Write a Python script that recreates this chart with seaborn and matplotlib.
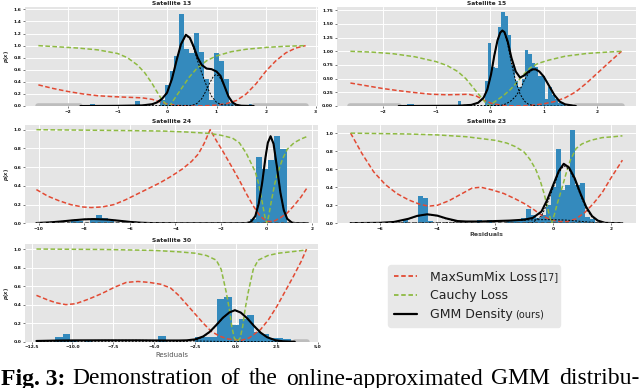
import numpy as np
import pandas as pd
import matplotlib
matplotlib.use("Agg")
import matplotlib.pyplot as plt
from matplotlib.lines import Line2D
from matplotlib.ticker import MultipleLocator
import seaborn as sns

# ---------------- Satellite 13 ----------------
s13_bar_w = 0.1
s13_bar_x = [-1.6, -1.5, -1.3, -0.6, -0.1, 0.0, 0.1, 0.2, 0.3, 0.4, 0.5, 0.6, 0.7,
             0.8, 0.9, 1.0, 1.1, 1.2, 1.3, 1.7]
s13_bar_h = [0.02, 0.03, 0.02, 0.08, 0.1, 0.35, 0.58, 0.82, 1.53, 0.95, 0.87, 1.21, 0.9,
             0.45, 0.1, 0.87, 0.75, 0.45, 0.05, 0.03]
s13_red_x = [-2.6, -2.3, -2.0, -1.7, -1.4, -1.1, -0.8, -0.5, -0.3, -0.15, 0.0, 0.2, 0.4,
             0.6, 0.8, 1.0, 1.2, 1.4, 1.6, 1.8, 2.0, 2.2, 2.4, 2.6, 2.8]
s13_red_y = [0.35, 0.29, 0.24, 0.2, 0.17, 0.155, 0.145, 0.135, 0.11, 0.07, 0.035, 0.01, 0.0,
             0.0, 0.005, 0.015, 0.04, 0.09, 0.2, 0.37, 0.58, 0.75, 0.88, 0.96, 1.0]
s13_green_x = [-2.6, -2.2, -1.8, -1.4, -1.0, -0.8, -0.6, -0.45, -0.3, -0.2, -0.1, 0.0, 0.05,
               0.15, 0.3, 0.45, 0.6, 0.8, 1.0, 1.3, 1.6, 2.0, 2.4, 2.8]
s13_green_y = [1.0, 0.98, 0.96, 0.93, 0.87, 0.8, 0.68, 0.55, 0.37, 0.23, 0.1, 0.015, 0.0,
               0.12, 0.3, 0.48, 0.62, 0.75, 0.83, 0.9, 0.94, 0.97, 0.99, 1.0]
s13_gmm_x = [-1.75, -1.0, -0.5, -0.3, -0.2, -0.1, 0.0, 0.1, 0.2, 0.28, 0.38, 0.46, 0.54,
             0.62, 0.7, 0.8, 0.9, 1.0, 1.08, 1.16, 1.24, 1.32, 1.4, 1.5, 1.75]
s13_gmm_y = [0.0, 0.003, 0.01, 0.03, 0.06, 0.12, 0.22, 0.45, 0.78, 1.02, 1.18, 1.13, 0.98,
             0.8, 0.68, 0.62, 0.61, 0.57, 0.5, 0.33, 0.16, 0.06, 0.02, 0.005, 0.0]
s13_c1_x = [-1.75, -0.5, -0.3, -0.2, -0.1, 0.0, 0.1, 0.2, 0.28, 0.38, 0.46, 0.54, 0.62,
            0.7, 0.8, 0.9, 1.0, 1.1, 1.75]
s13_c1_y = [0.0, 0.01, 0.03, 0.06, 0.12, 0.22, 0.45, 0.78, 1.02, 1.17, 1.12, 0.95, 0.74,
            0.55, 0.33, 0.16, 0.06, 0.02, 0.0]
s13_c2_x = [-1.75, 0.5, 0.6, 0.7, 0.78, 0.86, 0.93, 0.98, 1.04, 1.1, 1.16, 1.24, 1.32, 1.4, 1.5, 1.75]
s13_c2_y = [0.0, 0.01, 0.04, 0.12, 0.24, 0.38, 0.48, 0.52, 0.5, 0.43, 0.32, 0.16, 0.06, 0.02, 0.0, 0.0]
s13_gray = [(-2.6, -1.75), (1.75, 2.8)]

# ---------------- Satellite 15 ----------------
s15_bar_w = 0.0625
s15_bar_x = [-1.50625, -1.44375, -1.19375, -0.56875, -0.06875, -0.00625, 0.05625, 0.11875,
             0.18125, 0.24375, 0.30625, 0.36875, 0.43125, 0.49375, 0.55625, 0.61875,
             0.68125, 0.74375, 0.80625, 0.86875, 0.93125, 0.99375, 1.05625, 1.11875,
             1.18125, 1.24375, 1.30625, 1.36875]
s15_bar_h = [0.03, 0.03, 0.02, 0.09, 0.45, 1.15, 0.72, 0.7, 1.45, 1.72, 1.65, 1.3, 0.75,
             0.45, 0.35, 0.5, 1.02, 0.95, 0.78, 0.72, 0.55, 0.55, 0.12, 0.35, 0.2, 0.12,
             0.06, 0.03]
s15_red_x = [-2.6, -2.3, -2.0, -1.7, -1.4, -1.1, -0.8, -0.55, -0.4, -0.25, -0.1, 0.05, 0.25,
             0.5, 0.75, 1.0, 1.2, 1.4, 1.6, 1.8, 2.0, 2.2, 2.45]
s15_red_y = [0.42, 0.37, 0.32, 0.28, 0.245, 0.215, 0.205, 0.21, 0.215, 0.18, 0.1, 0.04, 0.01,
             0.0, 0.01, 0.04, 0.08, 0.15, 0.26, 0.42, 0.6, 0.78, 1.0]
s15_green_x = [-2.6, -2.2, -1.8, -1.4, -1.0, -0.8, -0.6, -0.45, -0.3, -0.2, -0.1, -0.02, 0.05,
               0.15, 0.25, 0.38, 0.5, 0.62, 0.75, 0.9, 1.1, 1.4, 1.8, 2.1, 2.45]
s15_green_y = [1.0, 0.985, 0.955, 0.9, 0.81, 0.74, 0.63, 0.5, 0.32, 0.2, 0.08, 0.0, 0.05,
               0.12, 0.19, 0.3, 0.43, 0.57, 0.7, 0.78, 0.84, 0.91, 0.96, 0.98, 1.0]
s15_gmm_x = [-1.7, -0.6, -0.35, -0.22, -0.12, -0.05, 0.02, 0.08, 0.14, 0.19, 0.23, 0.27, 0.33,
             0.4, 0.48, 0.56, 0.64, 0.72, 0.79, 0.85, 0.92, 1.0, 1.1, 1.2, 1.3, 1.4, 1.6]
s15_gmm_y = [0.0, 0.005, 0.02, 0.06, 0.15, 0.3, 0.58, 0.92, 1.2, 1.34, 1.38, 1.35, 1.18,
             0.88, 0.63, 0.52, 0.56, 0.63, 0.67, 0.67, 0.63, 0.54, 0.37, 0.2, 0.08, 0.03, 0.0]
s15_c1_x = [-1.7, -0.6, -0.35, -0.22, -0.12, -0.05, 0.02, 0.08, 0.14, 0.19, 0.23, 0.27, 0.33,
            0.4, 0.48, 0.56, 0.64, 0.72, 0.8, 0.9, 1.6]
s15_c1_y = [0.0, 0.005, 0.02, 0.06, 0.15, 0.3, 0.58, 0.92, 1.2, 1.34, 1.37, 1.33, 1.13,
            0.78, 0.45, 0.22, 0.09, 0.03, 0.01, 0.0, 0.0]
s15_c2_x = [-1.7, 0.2, 0.3, 0.4, 0.48, 0.56, 0.64, 0.72, 0.79, 0.85, 0.92, 1.0, 1.1, 1.2,
            1.3, 1.4, 1.6]
s15_c2_y = [0.0, 0.01, 0.04, 0.1, 0.18, 0.3, 0.47, 0.6, 0.66, 0.67, 0.63, 0.54, 0.37, 0.2,
            0.08, 0.03, 0.0]
s15_gray = [(-2.6, -1.7), (1.6, 2.45)]

# ---------------- Satellite 24 ----------------
s24_bar_w = 0.27
s24_bar_x = [-8.445, -8.175, -7.635, -7.365, -7.095, -6.825, -0.615, -0.345, -0.075, 0.195,
             0.465, 0.735]
s24_bar_h = [0.04, 0.02, 0.03, 0.09, 0.06, 0.02, 0.05, 0.71, 0.58, 0.68, 0.93, 0.79]
s24_red_x = [-10.1, -9.6, -9.1, -8.6, -8.1, -7.7, -7.2, -6.7, -6.2, -5.7, -5.2, -4.7, -4.2,
             -3.7, -3.3, -3.0, -2.75, -2.48, -2.2, -1.9, -1.5, -1.2, -0.9, -0.6, -0.3, 0.0,
             0.3, 0.6, 0.9, 1.2, 1.5, 1.8]
s24_red_y = [0.36, 0.29, 0.24, 0.2, 0.175, 0.168, 0.175, 0.2, 0.25, 0.31, 0.37, 0.43, 0.5,
             0.58, 0.66, 0.74, 0.85, 1.0, 0.88, 0.76, 0.59, 0.46, 0.32, 0.19, 0.08, 0.02,
             0.02, 0.06, 0.11, 0.19, 0.28, 0.39]
s24_green_x = [-10.1, -8.0, -6.0, -4.5, -3.5, -2.5, -2.0, -1.5, -1.2, -0.9, -0.7, -0.5, -0.35,
               -0.2, -0.08, 0.0, 0.08, 0.2, 0.35, 0.5, 0.7, 0.9, 1.2, 1.5, 1.8]
s24_green_y = [1.0, 0.995, 0.99, 0.985, 0.975, 0.96, 0.94, 0.91, 0.86, 0.75, 0.65, 0.55, 0.42,
               0.23, 0.07, 0.0, 0.07, 0.23, 0.42, 0.55, 0.69, 0.79, 0.86, 0.9, 0.93]
s24_gmm_x = [-10.1, -9.5, -9.0, -8.5, -8.0, -7.6, -7.0, -6.5, -6.0, -5.5, -5.0, -4.0, -1.2,
             -0.9, -0.7, -0.5, -0.35, -0.2, -0.05, 0.05, 0.17, 0.3, 0.45, 0.6, 0.75, 0.9,
             1.1, 1.3, 1.8]
s24_gmm_y = [0.003, 0.01, 0.02, 0.032, 0.042, 0.045, 0.04, 0.028, 0.015, 0.006, 0.002, 0.0,
             0.0, 0.002, 0.014, 0.077, 0.21, 0.43, 0.71, 0.86, 0.93, 0.85, 0.6, 0.33, 0.14,
             0.048, 0.008, 0.001, 0.0]
s24_c1_x = [-10.1, -9.5, -9.0, -8.5, -8.0, -7.6, -7.0, -6.5, -6.0, -5.5, -5.0, -4.0, 1.8]
s24_c1_y = [0.003, 0.01, 0.02, 0.032, 0.042, 0.045, 0.04, 0.028, 0.015, 0.006, 0.002, 0.0, 0.0]
s24_c2_x = [-10.1, -1.2, -0.9, -0.7, -0.5, -0.35, -0.2, -0.05, 0.05, 0.17, 0.3, 0.45, 0.6,
            0.75, 0.9, 1.1, 1.3, 1.8]
s24_c2_y = [0.0, 0.0, 0.002, 0.014, 0.077, 0.21, 0.43, 0.71, 0.86, 0.93, 0.85, 0.6, 0.33,
            0.14, 0.048, 0.008, 0.001, 0.0]

# ---------------- Satellite 23 ----------------
s23_bar_w = 0.17
s23_bar_x = [-5.945, -5.095, -4.585, -4.415, -4.245, -2.545, -2.205, -1.525, -1.355, -1.185,
             -1.015, -0.845, -0.675, -0.505, -0.335, -0.165, 0.005, 0.175, 0.345, 0.515,
             0.685, 0.855, 1.025, 1.195, 1.365]
s23_bar_h = [0.01, 0.04, 0.30, 0.28, 0.02, 0.04, 0.04, 0.03, 0.03, 0.03, 0.06, 0.16, 0.09,
             0.06, 0.09, 0.2, 0.4, 0.82, 0.37, 0.43, 1.03, 0.43, 0.45, 0.07, 0.05]
s23_red_x = [-7.0, -6.6, -6.2, -5.8, -5.4, -5.0, -4.6, -4.3, -4.0, -3.6, -3.2, -2.8, -2.5,
             -2.1, -1.7, -1.3, -1.0, -0.7, -0.4, -0.1, 0.2, 0.5, 0.8, 1.1, 1.4, 1.7, 2.0, 2.4]
s23_red_y = [1.0, 0.77, 0.57, 0.43, 0.33, 0.26, 0.21, 0.19, 0.2, 0.25, 0.32, 0.39, 0.4, 0.37,
             0.33, 0.27, 0.22, 0.16, 0.09, 0.04, 0.02, 0.02, 0.05, 0.12, 0.22, 0.34, 0.5, 0.7]
s23_green_x = [-7.0, -6.0, -5.0, -4.0, -3.0, -2.5, -2.0, -1.6, -1.3, -1.0, -0.8, -0.6, -0.45,
               -0.3, -0.15, -0.05, 0.05, 0.15, 0.3, 0.45, 0.6, 0.8, 1.0, 1.3, 1.7, 2.1, 2.4]
s23_green_y = [1.0, 0.995, 0.99, 0.98, 0.96, 0.94, 0.92, 0.89, 0.85, 0.79, 0.71, 0.6, 0.48,
               0.32, 0.12, 0.0, 0.1, 0.22, 0.38, 0.55, 0.7, 0.83, 0.88, 0.92, 0.95, 0.96, 0.97]
s23_gmm_x = [-7.0, -6.0, -5.5, -5.0, -4.7, -4.35, -4.0, -3.7, -3.3, -3.0, -2.5, -2.0, -1.5,
             -1.0, -0.7, -0.4, -0.2, 0.0, 0.2, 0.37, 0.55, 0.75, 0.95, 1.15, 1.35, 1.55, 1.8, 2.4]
s23_gmm_y = [0.002, 0.005, 0.015, 0.05, 0.082, 0.1, 0.085, 0.055, 0.025, 0.02, 0.02, 0.025,
             0.03, 0.04, 0.06, 0.13, 0.26, 0.42, 0.58, 0.66, 0.62, 0.5, 0.33, 0.18, 0.08, 0.03,
             0.005, 0.0]
s23_c1_x = [-7.0, -6.0, -5.5, -5.0, -4.7, -4.35, -4.0, -3.7, -3.3, -3.0, -2.5, 2.4]
s23_c1_y = [0.001, 0.005, 0.012, 0.048, 0.08, 0.098, 0.082, 0.05, 0.015, 0.005, 0.0, 0.0]
s23_c2_x = [-7.0, -4.0, -3.0, -2.0, -1.5, -1.0, -0.5, 0.0, 0.5, 1.0, 1.5, 2.4]
s23_c2_y = [0.0, 0.005, 0.015, 0.022, 0.028, 0.035, 0.04, 0.04, 0.035, 0.02, 0.008, 0.0]
s23_c3_x = [-7.0, -1.0, -0.7, -0.4, -0.2, 0.0, 0.2, 0.37, 0.55, 0.75, 0.95, 1.15, 1.35, 1.55,
            1.8, 2.4]
s23_c3_y = [0.0, 0.0, 0.01, 0.08, 0.22, 0.39, 0.56, 0.64, 0.6, 0.48, 0.31, 0.16, 0.07, 0.025,
            0.005, 0.0]

# ---------------- Satellite 30 ----------------
s30_bar_w = 0.45
s30_bar_x = [-10.825, -10.375, -9.925, -9.025, -4.525, -2.275, -1.825, -1.375, -0.925, -0.475,
             -0.025, 0.425, 0.875, 1.325, 1.775, 2.225, 2.675, 3.125]
s30_bar_h = [0.055, 0.08, 0.02, 0.02, 0.06, 0.047, 0.047, 0.05, 0.457, 0.479, 0.18, 0.25,
             0.29, 0.11, 0.08, 0.04, 0.04, 0.03]
s30_red_x = [-12.2, -11.5, -11.0, -10.4, -9.8, -9.0, -8.2, -7.4, -6.7, -6.0, -5.3, -4.6, -4.0,
             -3.5, -3.0, -2.5, -2.0, -1.5, -1.0, -0.5, 0.0, 0.35, 0.8, 1.5, 2.0, 2.5, 3.0, 3.5,
             4.0, 4.32]
s30_red_y = [0.5, 0.45, 0.42, 0.4, 0.41, 0.46, 0.52, 0.59, 0.64, 0.65, 0.64, 0.62, 0.58, 0.5,
             0.4, 0.3, 0.2, 0.11, 0.06, 0.03, 0.02, 0.015, 0.04, 0.13, 0.24, 0.38, 0.54, 0.7,
             0.87, 1.0]
s30_green_x = [-12.2, -8.0, -5.0, -3.5, -2.5, -1.8, -1.2, -0.9, -0.6, -0.4, -0.25, -0.1, 0.08,
               0.26, 0.41, 0.56, 0.76, 1.06, 1.36, 1.96, 2.6, 3.6, 4.32]
s30_green_y = [1.0, 0.995, 0.985, 0.97, 0.955, 0.93, 0.88, 0.78, 0.54, 0.35, 0.16, 0.04, 0.0,
               0.04, 0.16, 0.35, 0.54, 0.78, 0.88, 0.93, 0.955, 0.975, 0.99]
s30_gmm_x = [-12.2, -11.0, -10.0, -8.0, -6.0, -4.5, -3.5, -3.0, -2.5, -2.0, -1.6, -1.2, -0.8,
             -0.4, -0.06, 0.3, 0.7, 1.1, 1.5, 1.9, 2.4, 2.9, 3.6]
s30_gmm_y = [0.008, 0.012, 0.014, 0.015, 0.015, 0.013, 0.013, 0.015, 0.025, 0.057, 0.107,
             0.18, 0.258, 0.316, 0.34, 0.314, 0.251, 0.171, 0.099, 0.049, 0.016, 0.004, 0.0]
s30_c1_x = [-12.2, -10.0, -8.0, -6.0, -4.5, -3.0, -2.0, -1.0, 0.0, 3.6]
s30_c1_y = [0.008, 0.012, 0.014, 0.015, 0.013, 0.01, 0.006, 0.003, 0.001, 0.0]
s30_c2_x = [-12.2, -4.0, -3.0, -2.5, -2.0, -1.6, -1.2, -0.8, -0.4, -0.06, 0.3, 0.7, 1.1, 1.5,
            1.9, 2.4, 2.9, 3.6]
s30_c2_y = [0.0, 0.0, 0.004, 0.017, 0.051, 0.102, 0.175, 0.255, 0.316, 0.34, 0.314, 0.251,
            0.171, 0.099, 0.049, 0.016, 0.004, 0.0]
s30_gray = [(3.6, 4.32)]

legend_labels = ["MaxSumMix Loss", "Cauchy Loss", "GMM Density"]
legend_suffix = ["[17]", "", "(ours)"]
caption_bold = "Fig. 3:"
caption_words = ["Demonstration", "of", "the", "online-approximated", "GMM", "distribu-"]

BLUE = "#348ABD"
RED = "#E24A33"
GREEN = "#8EBA42"

# ---------------- style ----------------
sns.set_theme(style="darkgrid", rc={
    "axes.facecolor": "#E5E5E5",
    "grid.color": "white",
    "grid.linewidth": 0.7,
    "axes.edgecolor": "#E5E5E5",
})
plt.rcParams["font.family"] = ["DejaVu Sans"]
plt.rcParams["font.weight"] = "bold"
plt.rcParams["axes.titleweight"] = "bold"

W, H = 640, 388
fig = plt.figure(figsize=(6.4, 3.88), dpi=100)

panels = [
    dict(title="Satellite 13", rect=(25, 7, 318, 106), xlim=(-2.87, 3.05), ylim=(0, 1.64),
         xstep=1, ystep=0.2, bw=s13_bar_w, bx=s13_bar_x, bh=s13_bar_h,
         red=(s13_red_x, s13_red_y), green=(s13_green_x, s13_green_y),
         gmm=(s13_gmm_x, s13_gmm_y), comps=[(s13_c1_x, s13_c1_y), (s13_c2_x, s13_c2_y)],
         gray=s13_gray, dark=None, ylab=True, xlab=None),
    dict(title="Satellite 15", rect=(337, 7, 636, 106), xlim=(-2.85, 2.72), ylim=(0, 1.81),
         xstep=1, ystep=0.25, bw=s15_bar_w, bx=s15_bar_x, bh=s15_bar_h,
         red=(s15_red_x, s15_red_y), green=(s15_green_x, s15_green_y),
         gmm=(s15_gmm_x, s15_gmm_y), comps=[(s15_c1_x, s15_c1_y), (s15_c2_x, s15_c2_y)],
         gray=s15_gray, dark=None, ylab=False, xlab=None),
    dict(title="Satellite 24", rect=(25, 125, 318, 223.3), xlim=(-10.6, 2.25), ylim=(0, 1.05),
         xstep=2, ystep=0.2, bw=s24_bar_w, bx=s24_bar_x, bh=s24_bar_h,
         red=(s24_red_x, s24_red_y), green=(s24_green_x, s24_green_y),
         gmm=(s24_gmm_x, s24_gmm_y), comps=[(s24_c1_x, s24_c1_y), (s24_c2_x, s24_c2_y)],
         gray=[], dark=(s24_red_x[0], s24_red_x[-1]), ylab=True, xlab=None),
    dict(title="Satellite 23", rect=(337, 125, 636, 223.3), xlim=(-7.47, 2.87), ylim=(0, 1.09),
         xstep=2, ystep=0.2, bw=s23_bar_w, bx=s23_bar_x, bh=s23_bar_h,
         red=(s23_red_x, s23_red_y), green=(s23_green_x, s23_green_y),
         gmm=(s23_gmm_x, s23_gmm_y),
         comps=[(s23_c1_x, s23_c1_y), (s23_c2_x, s23_c2_y), (s23_c3_x, s23_c3_y)],
         gray=[], dark=(s23_red_x[0], s23_red_x[-1]), ylab=False, xlab="bold"),
    dict(title="Satellite 30", rect=(25, 244.4, 318, 341.7), xlim=(-12.9, 5.02), ylim=(0, 1.05),
         xstep=2.5, ystep=0.2, bw=s30_bar_w, bx=s30_bar_x, bh=s30_bar_h,
         red=(s30_red_x, s30_red_y), green=(s30_green_x, s30_green_y),
         gmm=(s30_gmm_x, s30_gmm_y), comps=[(s30_c1_x, s30_c1_y), (s30_c2_x, s30_c2_y)],
         gray=s30_gray, dark=None, ylab=True, xlab="normal"),
]

dash_loss = (0, (3, 1.6))
line_kw = dict(estimator=None, sort=False, legend=False)

for p in panels:
    x0, y0, x1, y1 = p["rect"]
    ax = fig.add_axes([x0 / W, 1 - y1 / H, (x1 - x0) / W, (y1 - y0) / H])
    w = p["bw"]
    lo = min(p["bx"]) - w / 2
    n = int(round((max(p["bx"]) - min(p["bx"])) / w)) + 1
    hist_df = pd.DataFrame({"res": p["bx"], "h": p["bh"]})
    sns.histplot(data=hist_df, x="res", weights="h", binwidth=w, binrange=(lo, lo + n * w),
                 ax=ax, color=BLUE, alpha=1.0, linewidth=0, zorder=1)
    for a, b in p["gray"]:
        sns.lineplot(x=[a, b], y=[0, 0], ax=ax, color="#BDBDBD", lw=4, zorder=1.5, **line_kw)
    sns.lineplot(x=p["red"][0], y=p["red"][1], ax=ax, color=RED, lw=1.1,
                 linestyle=dash_loss, zorder=2.5, **line_kw)
    sns.lineplot(x=p["green"][0], y=p["green"][1], ax=ax, color=GREEN, lw=1.1,
                 linestyle=dash_loss, zorder=2.6, **line_kw)
    for cx, cy in p["comps"]:
        sns.lineplot(x=cx, y=cy, ax=ax, color="black", lw=0.7,
                     linestyle=(0, (2, 1.5)), zorder=3, **line_kw)
    sns.lineplot(x=p["gmm"][0], y=p["gmm"][1], ax=ax, color="black", lw=1.5,
                 zorder=3.5, **line_kw)
    if p["dark"] is not None:
        sns.lineplot(x=list(p["dark"]), y=[0, 0], ax=ax, color="#555555", lw=2,
                     linestyle=(0, (1.2, 1.0)), zorder=3.6, **line_kw)

    ax.set_xlim(*p["xlim"])
    ax.set_ylim(*p["ylim"])
    ax.xaxis.set_major_locator(MultipleLocator(p["xstep"]))
    ax.yaxis.set_major_locator(MultipleLocator(p["ystep"]))
    ax.tick_params(axis="both", labelsize=3.2, length=1.5, width=0.5, color="#444444",
                   pad=1.2, labelcolor="#111111", bottom=True, left=True)
    ax.set_title(p["title"], fontsize=4.3, pad=1.5, fontweight="bold")
    ax.set_ylabel("$p(x)$" if p["ylab"] else "", fontsize=3.6, labelpad=1.5)
    if p["xlab"] == "bold":
        ax.set_xlabel("Residuals", fontsize=4.5, fontweight="bold", color="#444444", labelpad=1)
    elif p["xlab"] == "normal":
        ax.set_xlabel("Residuals", fontsize=5, fontweight="normal", color="#555555", labelpad=1.5)
    else:
        ax.set_xlabel("")
    for s in ax.spines.values():
        s.set_visible(False)

# ---------------- legend ----------------
handles = [
    Line2D([], [], color=RED, lw=1.3, linestyle=(0, (2.5, 1.5))),
    Line2D([], [], color=GREEN, lw=1.3, linestyle=(0, (2.5, 1.5))),
    Line2D([], [], color="black", lw=1.6),
]
leg = fig.legend(handles, legend_labels, loc="upper left",
                 bbox_to_anchor=(388 / W, 1 - 323 / H, 172 / W, 58 / H), mode="expand",
                 borderaxespad=0, prop={"size": 9, "weight": "normal"}, handlelength=1.85,
                 handletextpad=1.1, borderpad=0.45, labelspacing=0.45, frameon=True,
                 fancybox=True, facecolor="#E8E8E8", edgecolor="#E8E8E8", framealpha=1)
for t in leg.get_texts():
    t.set_color("#222222")

fig.canvas.draw()
r = fig.canvas.get_renderer()
for t, suf, gap in zip(leg.get_texts(), legend_suffix, [0.5, 0, 2.0]):
    if suf:
        bb = t.get_window_extent(r)
        fig.text((bb.x1 + gap) / W, (bb.y0 + 1.8) / H, suf, fontsize=7, fontweight="normal",
                 color="#222222", va="bottom", zorder=10)

# ---------------- caption ----------------
cap_kw = dict(fontsize=17, family="Liberation Serif", va="baseline", color="black")
base_y = 3.5 / H
fig.text(1 / W, base_y, caption_bold, fontweight="bold", **cap_kw)
objs = [fig.text(0, base_y, wd, fontweight="normal", **cap_kw) for wd in caption_words]
fig.canvas.draw()
widths = [o.get_window_extent(r).width for o in objs]
start, end = 72, 639
gap = (end - start - sum(widths)) / (len(objs) - 1)
xpos = start
for o, wd in zip(objs, widths):
    o.set_x(xpos / W)
    xpos += wd + gap

fig.savefig("out.png", dpi=100)
